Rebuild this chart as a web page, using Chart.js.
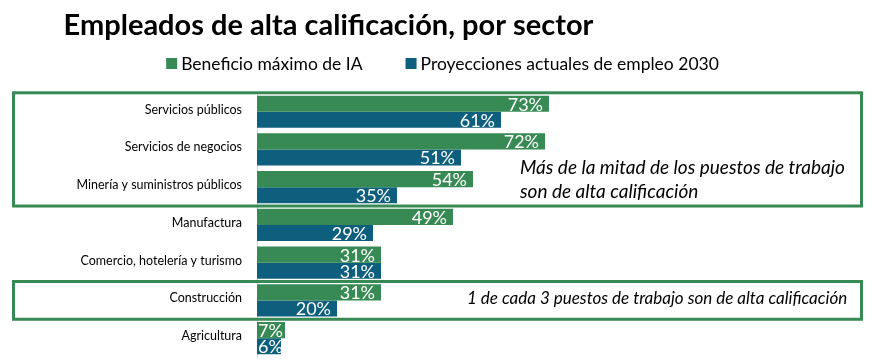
<!DOCTYPE html>
<html>
<head>
<meta charset="utf-8">
<script src="https://cdn.jsdelivr.net/npm/chart.js@4.4.1/dist/chart.umd.min.js"></script>
<style>
  html, body { margin: 0; padding: 0; background: #fff; }
  #wrap { width: 885px; height: 364px; position: relative; }
</style>
</head>
<body>
<div id="wrap"><canvas id="myChart"></canvas></div>
<script>
const sectors = [
    "Servicios públicos",
    "Servicios de negocios",
    "Minería y suministros públicos",
    "Manufactura",
    "Comercio, hotelería y turismo",
    "Construcción",
    "Agricultura"
];
const maxBenefit = [73, 72, 54, 49, 31, 31, 7];
const currentProj = [61, 51, 35, 29, 31, 20, 6];
const seriesNames = ["Beneficio máximo de IA", "Proyecciones actuales de empleo 2030"];

const green = "#378a53";
const blue = "#0e5f7e";
const font = "Lato";

// white value labels at the inner end of each bar
const barLabels = {
    id: "barLabels",
    afterDatasetsDraw(chart) {
        const c = chart.ctx;
        c.save();
        c.fillStyle = "#fff";
        c.font = "18px " + font;
        c.textAlign = "left";
        c.textBaseline = "alphabetic";
        chart.data.datasets.forEach((ds, i) => {
            chart.getDatasetMeta(i).data.forEach((bar, j) => {
                const txt = ds.data[j] + "%";
                const w = c.measureText(txt).width;
                const x = Math.max(bar.base + 1, bar.x - 6 - w);
                c.fillText(txt, x, bar.y + 7);
            });
        });
        c.restore();
    }
};

// legend drawn by hand so the spacing matches
const legendRow = {
    id: "legendRow",
    afterDraw(chart) {
        const c = chart.ctx;
        c.save();
        c.font = "17.5px " + font;
        c.textBaseline = "middle";
        const items = chart.data.datasets.map(ds => ({ text: ds.label, color: ds.backgroundColor }));
        const widths = items.map(it => 15 + c.measureText(it.text).width);
        const total = widths.reduce((a, b) => a + b, 0) + 43;
        let x = chart.width / 2 - total / 2;
        items.forEach((it, i) => {
            c.fillStyle = it.color;
            c.fillRect(x, 58, 11, 11);
            c.fillStyle = "#000";
            c.fillText(it.text, x + 15, 64);
            x += widths[i] + 43;
        });
        c.restore();
    }
};

// green frames round groups of sectors, with their notes
const frames = {
    id: "frames",
    afterDraw(chart) {
        const c = chart.ctx;
        const y = chart.scales.y;
        const half = (y.getPixelForValue(1) - y.getPixelForValue(0)) / 2;
        const box = (from, to) => {
            const top = y.getPixelForValue(from) - half;
            const bottom = y.getPixelForValue(to) + half;
            c.strokeRect(13.5, top, 848, bottom - top);
        };
        c.save();
        c.strokeStyle = green;
        c.lineWidth = 3;
        box(0, 2);
        box(5, 5);
        c.fillStyle = "#000";
        c.font = "italic 19px " + font;
        c.textBaseline = "middle";
        c.fillText("Más de la mitad de los puestos de trabajo", 520, 168);
        c.fillText("son de alta calificación", 520, 192);
        c.font = "italic 17px " + font;
        c.fillText("1 de cada 3 puestos de trabajo son de alta calificación", 467, y.getPixelForValue(5) - 2);
        c.restore();
    }
};

const ctx = document.getElementById("myChart");
const myChart = new Chart(ctx, {
    type: "bar",
    data: {
        labels: sectors,
        datasets: [{
            label: seriesNames[0],
            data: maxBenefit,
            backgroundColor: green
        }, {
            label: seriesNames[1],
            data: currentProj,
            backgroundColor: blue
        }]
    },
    options: {
        indexAxis: "y",
        responsive: true,
        maintainAspectRatio: false,
        animation: false,
        datasets: {
            bar: { categoryPercentage: 0.85, barPercentage: 1.0 }
        },
        layout: {
            padding: { left: 0, right: 228, top: 0, bottom: 7 }
        },
        plugins: {
            title: {
                display: true,
                text: "Empleados de alta calificación, por sector",
                color: "#000",
                font: { family: font, size: 29, weight: "bold" },
                padding: { top: 8, bottom: 50 }
            },
            legend: { display: false },
            tooltip: { enabled: false }
        },
        scales: {
            x: {
                display: false,
                min: 0,
                max: 100
            },
            y: {
                grid: { display: false },
                border: { display: true, color: "#d9d9d9", width: 1 },
                ticks: {
                    color: "#000",
                    font: { family: font, size: 12.5 },
                    padding: 7,
                    labelOffset: -2
                },
                afterFit(scale) {
                    scale.width = 257;
                    // tick padding should not eat space above/below the bars
                    scale.paddingTop = 0;
                    scale.paddingBottom = 0;
                }
            }
        }
    },
    plugins: [barLabels, legendRow, frames]
});
</script>
</body>
</html>
